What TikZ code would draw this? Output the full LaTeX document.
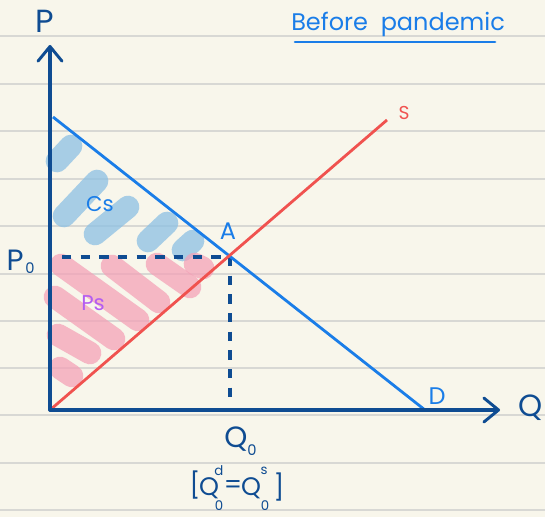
\documentclass[tikz,border=0pt]{standalone}
\usepackage{fontspec}
\setmainfont{Poppins}
\usetikzlibrary{arrows.meta}
\definecolor{paper}{HTML}{F8F6EB}
\definecolor{ruled}{HTML}{D8D8D4}
\definecolor{navy}{HTML}{0F4C92}
\definecolor{dblue}{HTML}{1A7DE8}
\definecolor{sred}{HTML}{F0524F}
\definecolor{csblue}{HTML}{8CC0E4}
\definecolor{pspink}{HTML}{F4A0B6}
\definecolor{pspurple}{HTML}{B45CF2}
\tikzset{
  axisline/.style={navy, line width=2.4pt, line cap=round},
  axishead/.style={-{Straight Barb[length=11pt,width=18pt,line width=2.2pt,round]}},
  csstripe/.style={csblue, line width=17pt, line cap=round, opacity=0.75},
  psstripe/.style={pspink, line width=17pt, line cap=round, opacity=0.72},
  guide/.style={navy, line width=2.6pt, dash pattern=on 7pt off 7pt},
  lbl/.style={inner sep=0pt},
  eqtxt/.style={lbl, navy, font=\fontsize{19}{19}\selectfont},
  eqsmall/.style={lbl, navy, font=\fontsize{10}{10}\selectfont},
}
\begin{document}
\begin{tikzpicture}[x=0.75pt,y=-0.75pt]
\fill[paper] (0,0) rectangle (545,517);
\useasboundingbox (0,0) rectangle (545,517);
\foreach \yy in {36,84,131,179,226,274,321,368,415,463,510}
  \draw[ruled, line width=1.1pt] (0,\yy) -- (545,\yy);

% key points
\coordinate (O) at (50,410);
\coordinate (Ptop) at (50,45);
\coordinate (Qend) at (500,410);
\coordinate (Dstart) at (53,117);
\coordinate (Dend) at (425,410);
\coordinate (Send) at (387,120);
\coordinate (A) at (230,257);
\coordinate (Pzero) at (62,257);
\coordinate (Qzero) at (230,405);

% consumer surplus stripes
\draw[csstripe] (57,161) -- (71,146);
\draw[csstripe] (64,216) -- (97,181);
\draw[csstripe] (95,234) -- (128,207);
\draw[csstripe] (148,241) -- (167,223);
\draw[csstripe] (183,250) -- (193,241);

% producer surplus stripes
\draw[psstripe] (61,265) -- (138,320);
\draw[psstripe] (112,266) -- (159,302);
\draw[psstripe] (157,264) -- (190,287);
\draw[psstripe] (195,264) -- (203,268);
\draw[psstripe] (55,297) -- (114,339);
\draw[psstripe] (58,335) -- (90,353);
\draw[psstripe] (60,368) -- (72,376);

% guides
\draw[guide] (Pzero) -- (A);
\draw[guide] (A) -- (Qzero);

% curves
\draw[dblue, line width=2.1pt] (Dstart) -- (Dend);
\draw[sred, line width=2.1pt] (O) -- (Send);

% axes
\draw[axisline, axishead] (O) -- (Ptop);
\draw[axisline, axishead] (O) -- (Qend);

% labels
\node[lbl, navy, font=\fontsize{24}{24}\selectfont] (lP) at (45,21) {P};
\node[lbl, navy, font=\fontsize{23}{23}\selectfont] (lQ) at (531,408) {Q};
\node[lbl, navy, font=\fontsize{22}{22}\selectfont] (lP0) at (15,260) {P};
\node[lbl, navy, font=\fontsize{11}{11}\selectfont] (lP0s) at (30,268) {0};
\node[lbl, navy, font=\fontsize{22}{22}\selectfont] (lQ0) at (236,439) {Q};
\node[lbl, navy, font=\fontsize{11}{11}\selectfont] (lQ0s) at (252,450) {0};

% [Q^d_0 = Q^s_0]
\node[eqtxt] (lbr) at (195,485) {[};
\node[eqtxt] (eqQa) at (209,488) {Q};
\node[eqsmall] (eqd) at (219,471) {d};
\node[eqsmall] (eqza) at (219,506) {0};
\node[eqtxt] (eqeq) at (233,487) {=};
\node[eqtxt] (eqQb) at (251,488) {Q};
\node[eqsmall] (eqs) at (264,471) {s};
\node[eqsmall] (eqzb) at (265,506) {0};
\node[eqtxt] (rbr) at (279,487) {]};

\node[lbl, dblue, font=\fontsize{18}{18}\selectfont] (lA) at (228,231) {A};
\node[lbl, dblue, font=\fontsize{18}{18}\selectfont] (lD) at (437,396) {D};
\node[lbl, sred, font=\fontsize{14}{14}\selectfont] (lS) at (404,113) {S};
\node[lbl, dblue, font=\fontsize{16}{16}\selectfont] (lCS) at (100,204) {Cs};
\node[lbl, pspurple, font=\fontsize{16}{16}\selectfont] (lPS) at (93,303) {Ps};
\node[lbl, dblue, font=\fontsize{18}{18}\selectfont, anchor=base west] (title) at (291,31) {Before\ \ pandemic};
\draw[dblue, line width=2pt, line cap=round] (295,42) -- (495,42);
\end{tikzpicture}
\end{document}
